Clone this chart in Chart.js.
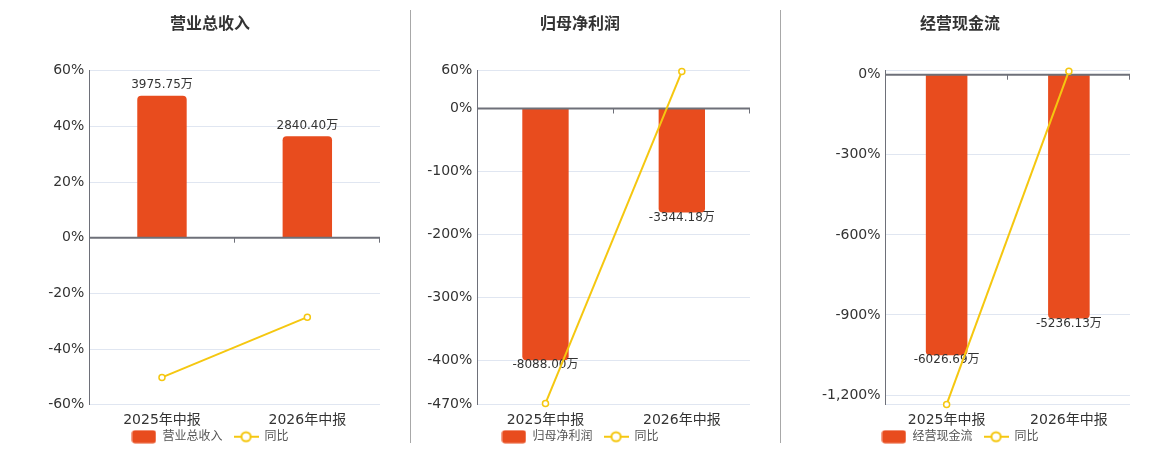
<!DOCTYPE html>
<html>
<head>
<meta charset="utf-8">
<script src="https://cdn.jsdelivr.net/npm/chart.js@4"></script>
<style>
  html, body { margin: 0; padding: 0; background: #fff; }
  body { width: 1160px; height: 450px; position: relative; overflow: hidden; }
  .panel { position: absolute; top: 0; height: 450px; }
  .sep { position: absolute; top: 10px; height: 433px; width: 1px; background: #A8A8A8; }
</style>
</head>
<body>
<div class="panel" id="p0" style="left:0;width:410px"><canvas id="c0" width="410" height="450"></canvas></div>
<div class="panel" id="p1" style="left:410px;width:370px"><canvas id="c1" width="370" height="450"></canvas></div>
<div class="panel" id="p2" style="left:780px;width:380px"><canvas id="c2" width="380" height="450"></canvas></div>
<div class="sep" style="left:410px"></div>
<div class="sep" style="left:780px"></div>
<script>
// ---------- DATA ----------
const categories = ['2025年中报', '2026年中报'];
const titles = ['营业总收入', '归母净利润', '经营现金流'];
const barNames = ['营业总收入', '归母净利润', '经营现金流'];
const yoyName = '同比';

const revenueValues = [3975.75, 2840.40];   // 万
const revenueYoY = [-50.2, -28.56];          // %
const profitValues = [-8088.00, -3344.18];  // 万
const profitYoY = [-467.9, 58.65];           // %
const cashValues = [-6026.69, -5236.13];    // 万
const cashYoY = [-1235.0, 13.12];            // %

// axis ticks (first = max, last = min)
const revenueTicks = [60, 40, 20, 0, -20, -40, -60];
const revenueTickLabels = [60, 40, 20, 0, -20, -40, -60];
const profitTicks = [60, 0, -100, -200, -300, -400, -470];
const profitTickLabels = [60, 0, -100, -200, -300, -400, -470];
const cashTicks = [15, 0, -300, -600, -900, -1200, -1236];
const cashTickLabels = [0, -300, -600, -900, -1200];

// ---------- STYLE / LAYOUT ----------
const FONT = "'DejaVu Sans', 'Noto Sans CJK SC', sans-serif";
const BAR_COLOR = '#E84C1E';
const LINE_COLOR = '#F5C710';
const AXIS_COLOR = '#6E7079';
const GRID_COLOR = '#E0E6F1';
const BAR_FILL_RATIO = 0.85;

const layouts = [
  { padL: 40, padR: 30, yW: 49.3 },
  { padL: 0,  padR: 30, yW: 67.3 },
  { padL: 10, padR: 30, yW: 95.5 }
];

function makeIcon(kind) {
  const c = document.createElement('canvas');
  c.width = 25; c.height = 14;
  const g = c.getContext('2d');
  if (kind === 'bar') {
    g.fillStyle = BAR_COLOR;
    g.beginPath();
    g.roundRect(0.5, 0.5, 24, 13, 3);
    g.fill();
  } else {
    g.strokeStyle = LINE_COLOR;
    g.lineWidth = 2;
    g.beginPath(); g.moveTo(0, 7); g.lineTo(25, 7); g.stroke();
    g.fillStyle = '#fff';
    g.beginPath(); g.arc(12.5, 7, 4.6, 0, Math.PI * 2); g.fill(); g.stroke();
  }
  return c;
}
const icons = { bar: makeIcon('bar'), line: makeIcon('line') };

const fmtPct = v => v.toLocaleString('en-US') + '%';
const fmtWan = v => v.toFixed(2) + '万';

const barDecor = {
  id: 'barDecor',
  afterLayout(chart) {
    // let the category labels extend below the (deliberately short) x axis box
    chart.scales.x.bottom = chart.height;
  },
  afterDatasetDraw(chart, args) {
    if (args.meta.type !== 'bar') return;
    const { ctx, chartArea, scales } = chart;
    const y0 = scales.y.getPixelForValue(0);
    ctx.save();
    // zero axis line
    ctx.strokeStyle = AXIS_COLOR;
    ctx.lineWidth = 2;
    ctx.beginPath(); ctx.moveTo(chartArea.left, y0); ctx.lineTo(chartArea.right, y0); ctx.stroke();
    // category boundary tick marks
    ctx.lineWidth = 1;
    const xs = scales.x;
    const n = chart.data.labels.length;
    for (let i = 1; i <= n; i++) {
      const px = i < n ? (xs.getPixelForValue(i - 1) + xs.getPixelForValue(i)) / 2 : chartArea.right;
      const sx = Math.round(px) - 0.5;
      ctx.beginPath(); ctx.moveTo(sx, y0); ctx.lineTo(sx, y0 + 5); ctx.stroke();
    }
    // value labels
    ctx.font = '12px ' + FONT;
    ctx.fillStyle = '#333';
    ctx.textAlign = 'center';
    ctx.textBaseline = 'middle';
    const data = chart.data.datasets[args.index].data;
    args.meta.data.forEach((el, i) => {
      const v = data[i];
      const ty = v >= 0 ? el.y - 10.5 : el.y + 5;
      ctx.fillText(fmtWan(v), el.x, ty);
    });
    ctx.restore();
  }
};

function buildChart(idx, canvasId, barValues, yoyValues, ticks, tickLabels) {
  const L = layouts[idx];
  const pMax = ticks[0], pMin = ticks[ticks.length - 1];
  const maxAbs = Math.max(...barValues.map(Math.abs));
  const positive = barValues.some(v => v > 0);
  const side = positive ? pMax : -pMin;
  const k = maxAbs / (BAR_FILL_RATIO * side);
  const labelSet = new Set(tickLabels);

  return new Chart(document.getElementById(canvasId), {
    data: {
      labels: categories,
      datasets: [
        {
          type: 'bar', label: barNames[idx], data: barValues, yAxisID: 'yb', order: 2,
          backgroundColor: BAR_COLOR, borderRadius: 4, borderSkipped: 'start',
          barPercentage: 0.34, categoryPercentage: 1.0
        },
        {
          type: 'line', label: yoyName, data: yoyValues, yAxisID: 'y', order: 1,
          borderColor: LINE_COLOR, borderWidth: 2, tension: 0, clip: false,
          pointRadius: 3, pointHoverRadius: 3, pointBackgroundColor: '#fff',
          pointBorderColor: LINE_COLOR, pointBorderWidth: 1.5
        }
      ]
    },
    options: {
      responsive: false,
      animation: false,
      events: [],
      layout: { padding: { left: L.padL, right: L.padR, top: 0, bottom: 0 } },
      scales: {
        x: {
          type: 'category', offset: true,
          grid: { display: false, drawTicks: false },
          border: { display: false },
          ticks: { font: { size: 14, family: FONT }, color: '#333', padding: 7.6, maxRotation: 0, autoSkip: false },
          afterFit: s => { s.height = 15; }
        },
        y: {
          position: 'left', min: pMin, max: pMax,
          afterBuildTicks: s => { s.ticks = ticks.map(v => ({ value: v })); },
          ticks: {
            font: { size: 14, family: FONT }, color: '#333', padding: 5,
            callback: v => labelSet.has(v) ? fmtPct(v) : ''
          },
          grid: { color: GRID_COLOR, lineWidth: 1, drawTicks: false },
          border: { display: true, color: AXIS_COLOR, width: 1 },
          afterFit: s => { s.width = L.yW; }
        },
        yb: {
          display: false,
          min: pMin * k, max: pMax * k
        }
      },
      plugins: {
        title: {
          display: true, text: titles[idx], color: '#333',
          font: { size: 16, weight: 'bold', family: FONT },
          padding: { top: 15.4, bottom: 36.1 }
        },
        legend: {
          display: true, position: 'bottom', maxHeight: 30.3,
          labels: {
            usePointStyle: true, pointStyleWidth: 25, padding: 11,
            font: { size: 12, family: FONT }, color: '#555',
            generateLabels: chart => chart.data.datasets.map((ds, i) => ({
              text: ds.label, pointStyle: icons[ds.type], datasetIndex: i,
              fillStyle: 'transparent', strokeStyle: 'transparent', lineWidth: 0,
              hidden: false, fontColor: '#555'
            }))
          }
        },
        tooltip: { enabled: false }
      }
    },
    plugins: [barDecor]
  });
}

buildChart(0, 'c0', revenueValues, revenueYoY, revenueTicks, revenueTickLabels);
buildChart(1, 'c1', profitValues, profitYoY, profitTicks, profitTickLabels);
buildChart(2, 'c2', cashValues, cashYoY, cashTicks, cashTickLabels);
</script>
</body>
</html>
